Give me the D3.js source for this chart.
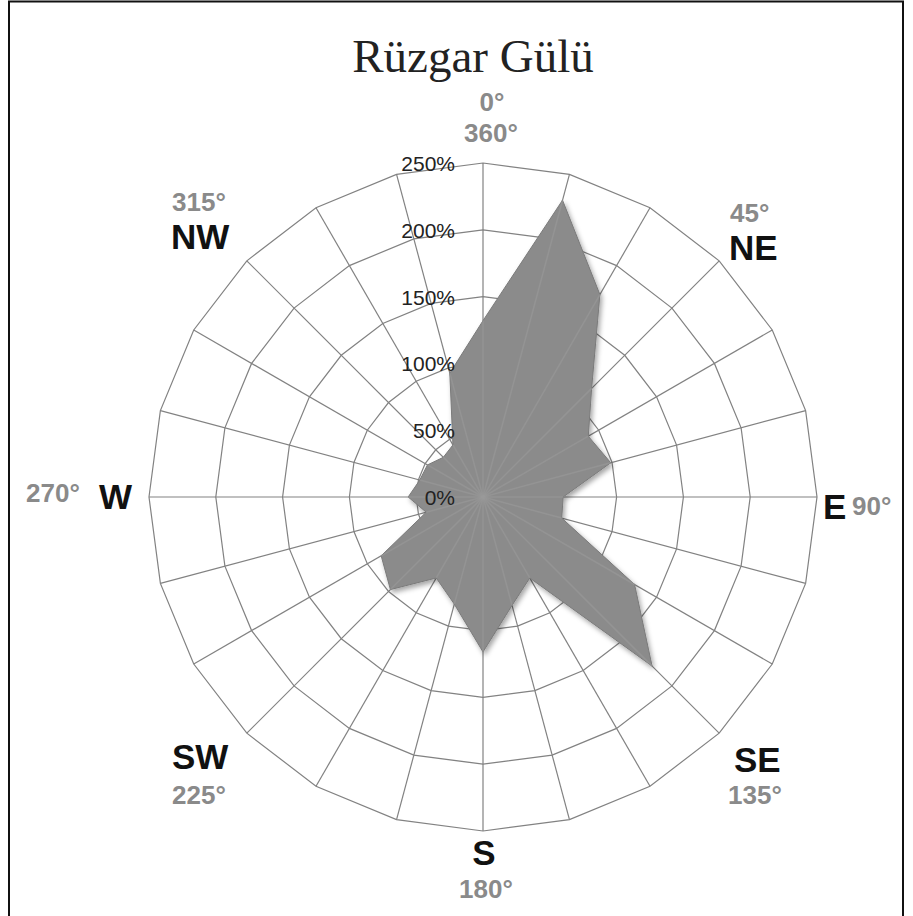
<!DOCTYPE html>
<html>
<head>
<meta charset="utf-8">
<script src="https://cdn.jsdelivr.net/npm/d3@7"></script>
<style>
  body { margin: 0; background: #fff; }
  svg { display: block; }
</style>
</head>
<body>
<script>
// wind rose data, one value per 15 degree sector
var angles = [0, 15, 30, 45, 60, 75, 90, 105, 120, 135, 150, 165,
              180, 195, 210, 225, 240, 255, 270, 285, 300, 315, 330, 345];
var values = [132, 230, 175, 115, 91, 99, 60, 61, 131, 179, 70, 84,
              116, 83, 70, 98, 88, 44, 56, 49, 48, 42, 45, 96];
var ringTicks = [0, 50, 100, 150, 200, 250];
var compassNames = ['N', 'NE', 'E', 'SE', 'S', 'SW', 'W', 'NW'];
var compassDegrees = ['0°', '45°', '90°', '135°', '180°', '225°', '270°', '315°'];
var title = 'Rüzgar Gülü';

var width = 913, height = 916,
    cx = 483, cy = 497,
    outer = 334;

var svg = d3.select('body').append('svg')
    .attr('width', width)
    .attr('height', height);

var defs = svg.append('defs');
var shadow = defs.append('filter').attr('id', 'shadow')
    .attr('x', '-10%').attr('y', '-10%').attr('width', '130%').attr('height', '130%');
shadow.append('feDropShadow')
    .attr('dx', 2).attr('dy', 3).attr('stdDeviation', 2.5)
    .attr('flood-color', '#000').attr('flood-opacity', 0.35);

// frame
svg.append('rect')
    .attr('x', 9).attr('y', 1.5)
    .attr('width', 894).attr('height', 930)
    .attr('fill', 'none')
    .attr('stroke', '#111')
    .attr('stroke-width', 2);

var r = d3.scaleLinear().domain([0, 250]).range([0, outer]);
var a = d3.scaleLinear().domain([0, 360]).range([0, 2 * Math.PI]);

var g = svg.append('g').attr('transform', 'translate(' + cx + ',' + cy + ')');

var ring = d3.lineRadial()
    .angle(function(d) { return a(d); })
    .curve(d3.curveLinearClosed);

// polygon rings
g.selectAll('.ring')
    .data(ringTicks.slice(1)).enter()
    .append('path').attr('class', 'ring')
    .attr('d', function(t) { return ring.radius(r(t))(angles); })
    .attr('fill', 'none')
    .attr('stroke', '#828282')
    .attr('stroke-width', 1.2);

// spokes
function spokes(cls) {
    return g.selectAll('.' + cls)
        .data(angles).enter()
        .append('line').attr('class', cls)
        .attr('x1', 0).attr('y1', 0)
        .attr('x2', function(d) { return r(250) * Math.sin(a(d)); })
        .attr('y2', function(d) { return -r(250) * Math.cos(a(d)); });
}
spokes('spoke')
    .attr('stroke', '#828282')
    .attr('stroke-width', 1.2);

// the data polygon
var shape = d3.lineRadial()
    .angle(function(d, i) { return a(angles[i]); })
    .radius(function(d) { return r(d); })
    .curve(d3.curveLinearClosed);

g.append('path')
    .datum(values)
    .attr('d', shape)
    .attr('fill', '#8b8b8b')
    .attr('stroke', '#7a7a7a')
    .attr('stroke-width', 1)
    .attr('filter', 'url(#shadow)');

// faint spokes showing through the fill
spokes('spoke-in')
    .attr('x2', function(d, i) { return r(values[i]) * Math.sin(a(d)); })
    .attr('y2', function(d, i) { return -r(values[i]) * Math.cos(a(d)); })
    .attr('stroke', '#9a9a9a')
    .attr('stroke-width', 1.5)
    .attr('opacity', 0.6);

// percent tick labels
g.selectAll('.tick')
    .data(ringTicks).enter()
    .append('text').attr('class', 'tick')
    .attr('x', -28)
    .attr('y', function(d) { return -r(d) + 8; })
    .attr('text-anchor', 'end')
    .style('font-family', 'Liberation Sans, Arial, sans-serif')
    .style('font-size', '21px')
    .style('fill', '#222')
    .text(function(d) { return d + '%'; });

// title
svg.append('text')
    .attr('x', 473).attr('y', 72)
    .attr('text-anchor', 'middle')
    .style('font-family', 'Liberation Serif, Times New Roman, serif')
    .style('font-size', '47px')
    .style('fill', '#222')
    .text(title);

// compass labels
var nameStyle = { 'font-size': '35px', 'fill': '#111' },
    degStyle = { 'font-size': '26px', 'fill': '#8a8a8a' };

function label(txt, x, y, anchor, st) {
    var t = svg.append('text')
        .attr('x', x).attr('y', y)
        .attr('text-anchor', anchor)
        .style('font-family', 'Liberation Sans, Arial, sans-serif')
        .style('font-weight', 'bold')
        .text(txt);
    for (var k in st) t.style(k, st[k]);
    return t;
}

label(compassDegrees[0], 492, 111, 'middle', degStyle);
label('360°', 491, 142, 'middle', degStyle);
label(compassDegrees[1], 730, 222, 'start', degStyle);
label(compassNames[1], 729, 260, 'start', nameStyle);
label(compassNames[2], 823, 519, 'start', nameStyle);
label(compassDegrees[2], 852, 515, 'start', degStyle);
label(compassNames[3], 734, 772, 'start', nameStyle);
label(compassDegrees[3], 728, 804, 'start', degStyle);
label(compassNames[4], 484, 865, 'middle', nameStyle);
label(compassDegrees[4], 486, 898, 'middle', degStyle);
label(compassNames[5], 172, 769, 'start', nameStyle);
label(compassDegrees[5], 172, 804, 'start', degStyle);
label(compassDegrees[6], 26, 502, 'start', degStyle);
label(compassNames[6], 99, 509, 'start', nameStyle);
label(compassDegrees[7], 172, 211, 'start', degStyle);
label(compassNames[7], 171, 249, 'start', nameStyle);
</script>
</body>
</html>
